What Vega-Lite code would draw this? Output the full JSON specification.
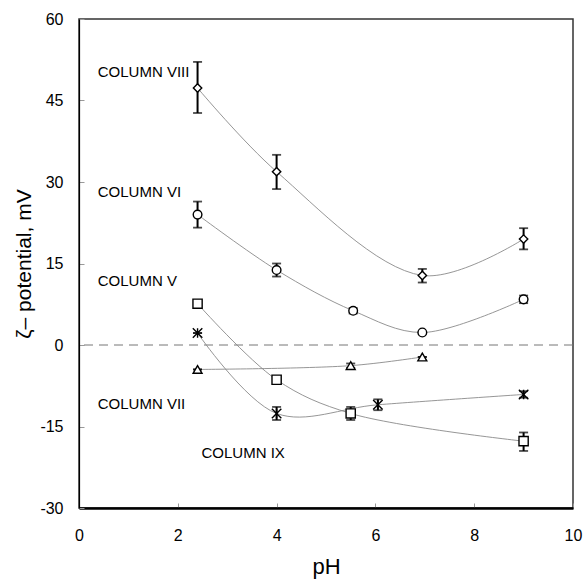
{
  "$schema": "https://vega.github.io/schema/vega-lite/v6.json",
  "width": 494,
  "height": 489,
  "autosize": {"type": "none"},
  "padding": {"left": 79, "top": 19, "right": 12, "bottom": 73},
  "background": "white",
  "config": {
    "font": "Liberation Sans",
    "view": {"stroke": "#333", "strokeWidth": 1.5},
    "axis": {"grid": false, "labelFont": "Liberation Sans", "titleFont": "Liberation Sans", "labelColor": "black", "titleColor": "black", "titleFontWeight": "normal", "labelFlush": false}
  },
  "datasets": {
    "zeta": [
      {"series": "VIII", "ph": 2.4, "zeta": 47.3, "lo": 42.7, "hi": 52.1},
      {"series": "VIII", "ph": 4.0, "zeta": 31.9, "lo": 28.7, "hi": 35.0},
      {"series": "VIII", "ph": 6.95, "zeta": 12.8, "lo": 11.5, "hi": 14.0},
      {"series": "VIII", "ph": 9.0, "zeta": 19.5, "lo": 17.6, "hi": 21.5},
      {"series": "VI", "ph": 2.4, "zeta": 24.0, "lo": 21.6, "hi": 26.4},
      {"series": "VI", "ph": 4.0, "zeta": 13.8, "lo": 12.6, "hi": 15.0},
      {"series": "VI", "ph": 5.55, "zeta": 6.3, "lo": 5.8, "hi": 6.8},
      {"series": "VI", "ph": 6.95, "zeta": 2.3, "lo": 2.3, "hi": 2.3},
      {"series": "VI", "ph": 9.0, "zeta": 8.4, "lo": 7.7, "hi": 9.1},
      {"series": "V", "ph": 2.4, "zeta": -4.5, "lo": -4.5, "hi": -4.5},
      {"series": "V", "ph": 5.5, "zeta": -3.8, "lo": -4.2, "hi": -3.4},
      {"series": "V", "ph": 6.95, "zeta": -2.2, "lo": -2.2, "hi": -2.2},
      {"series": "IX", "ph": 2.4, "zeta": 7.6, "lo": 7.0, "hi": 8.2},
      {"series": "IX", "ph": 4.0, "zeta": -6.4, "lo": -6.4, "hi": -6.4},
      {"series": "IX", "ph": 5.5, "zeta": -12.6, "lo": -13.8, "hi": -11.4},
      {"series": "IX", "ph": 9.0, "zeta": -17.7, "lo": -19.5, "hi": -16.1},
      {"series": "VII", "ph": 2.4, "zeta": 2.2, "lo": 2.2, "hi": 2.2},
      {"series": "VII", "ph": 4.0, "zeta": -12.6, "lo": -13.8, "hi": -11.4},
      {"series": "VII", "ph": 6.05, "zeta": -11.0, "lo": -12.0, "hi": -10.0},
      {"series": "VII", "ph": 9.0, "zeta": -9.1, "lo": -9.7, "hi": -8.5}
    ],
    "labels": [
      {"text": "COLUMN VIII", "ph": 0.38, "zeta": 50.3},
      {"text": "COLUMN VI", "ph": 0.38, "zeta": 28.2},
      {"text": "COLUMN V", "ph": 0.38, "zeta": 11.7},
      {"text": "COLUMN VII", "ph": 0.38, "zeta": -10.9},
      {"text": "COLUMN IX", "ph": 2.48, "zeta": -19.9}
    ]
  },
  "layer": [
    {
      "data": {"values": [{"zero": 0}]},
      "mark": {"type": "rule", "stroke": "#777", "strokeWidth": 1, "strokeDash": [9, 6]},
      "encoding": {
        "y": {"field": "zero", "type": "quantitative", "scale": {"domain": [-30, 60]}}
      }
    },
    {
      "data": {"name": "zeta"},
      "mark": {"type": "line", "interpolate": "catmull-rom", "stroke": "#8a8a8a", "strokeWidth": 0.9},
      "encoding": {
        "x": {"field": "ph", "type": "quantitative", "scale": {"domain": [0, 10]},
          "axis": {"values": [0, 2, 4, 6, 8, 10], "title": "pH", "titleFontSize": 22, "labelFontSize": 16, "tickSize": -5, "tickColor": "#999", "domainColor": "black", "domainWidth": 2.5, "labelPadding": 24, "titlePadding": 13}},
        "y": {"field": "zeta", "type": "quantitative", "scale": {"domain": [-30, 60]},
          "axis": {"values": [-30, -15, 0, 15, 30, 45, 60], "labelExpr": "replace(datum.label, '−', '-')", "title": "ζ– potential, mV", "titleFontSize": 21, "labelFontSize": 16, "tickSize": -5, "tickColor": "#999", "domainColor": "black", "domainWidth": 1.2, "labelPadding": 21, "titlePadding": 5}},
        "detail": {"field": "series"}
      }
    },
    {
      "data": {"name": "zeta"},
      "mark": {"type": "rule", "stroke": "black", "strokeWidth": 2},
      "encoding": {
        "x": {"field": "ph", "type": "quantitative"},
        "y": {"field": "lo", "type": "quantitative"},
        "y2": {"field": "hi"}
      }
    },
    {
      "data": {"name": "zeta"},
      "mark": {"type": "tick", "orient": "horizontal", "color": "black", "size": 9, "thickness": 1.8},
      "encoding": {
        "x": {"field": "ph", "type": "quantitative"},
        "y": {"field": "lo", "type": "quantitative"}
      }
    },
    {
      "data": {"name": "zeta"},
      "mark": {"type": "tick", "orient": "horizontal", "color": "black", "size": 9, "thickness": 1.8},
      "encoding": {
        "x": {"field": "ph", "type": "quantitative"},
        "y": {"field": "hi", "type": "quantitative"}
      }
    },
    {
      "data": {"name": "zeta"},
      "mark": {"type": "point", "filled": false, "fill": "white", "fillOpacity": 1, "stroke": "black", "strokeWidth": 1.4, "opacity": 1},
      "encoding": {
        "x": {"field": "ph", "type": "quantitative"},
        "y": {"field": "zeta", "type": "quantitative"},
        "shape": {"field": "series", "type": "nominal", "legend": null,
          "scale": {"domain": ["VIII", "VI", "V", "IX", "VII"],
            "range": ["diamond", "circle", "triangle-up", "square", "M-1,-1L1,1M1,-1L-1,1M0,-1L0,1"]}},
        "size": {"field": "series", "type": "nominal", "legend": null,
          "scale": {"domain": ["VIII", "VI", "V", "IX", "VII"], "range": [70, 90, 60, 75, 55]}}
      }
    },
    {
      "data": {"name": "labels"},
      "mark": {"type": "text", "align": "left", "baseline": "middle", "fontSize": 15, "font": "Liberation Sans", "color": "black"},
      "encoding": {
        "x": {"field": "ph", "type": "quantitative"},
        "y": {"field": "zeta", "type": "quantitative"},
        "text": {"field": "text"}
      }
    }
  ]
}
